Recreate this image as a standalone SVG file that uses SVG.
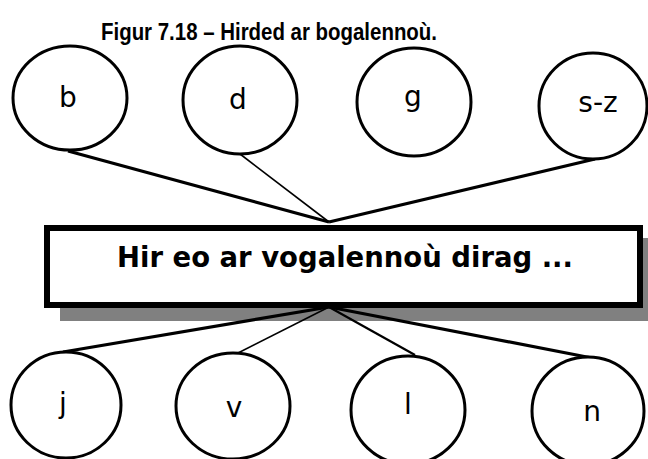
<svg xmlns="http://www.w3.org/2000/svg" width="648" height="459" viewBox="0 0 648 459">
<style>
.c{fill:#fff;stroke:#000;stroke-width:3}
.t{font-family:"DejaVu Sans",Verdana,sans-serif;font-size:28px;fill:#000;text-anchor:middle}
.thick{stroke:#000;stroke-width:3.2;fill:none}
.thin{stroke:#000;stroke-width:1.6;fill:none}
.mid{stroke:#000;stroke-width:2.2;fill:none}
</style>
<rect width="648" height="459" fill="#fff"/>
<text x="101" y="40" font-family="'Liberation Sans Narrow','Liberation Sans',Arial,sans-serif" font-size="24" font-weight="bold" fill="#000" textLength="336" lengthAdjust="spacingAndGlyphs">Figur 7.18 – Hirded ar bogalennoù.</text>
<g id="box">
<rect x="60" y="238" width="600" height="83" fill="#808080"/>
<rect x="47" y="228" width="593" height="77" fill="#fff" stroke="#000" stroke-width="6"/>
<text x="345" y="267" font-family="'DejaVu Sans',Verdana,sans-serif" font-size="29" font-weight="bold" text-anchor="middle" textLength="456" lengthAdjust="spacingAndGlyphs" fill="#000">Hir eo ar vogalennoù dirag ...</text>
</g>
<g id="connectors">
<line class="thick" x1="68" y1="151" x2="329" y2="222"/>
<line class="thin" x1="240" y1="154" x2="329" y2="222"/>
<line class="thick" x1="595" y1="159" x2="329" y2="222"/>
<line class="thick" x1="63" y1="352" x2="329" y2="307"/>
<line class="thin" x1="238" y1="353" x2="329" y2="307"/>
<line class="mid" x1="415" y1="355" x2="329" y2="307"/>
<line class="thick" x1="592" y1="358" x2="329" y2="307"/>
</g>
<g id="node-b"><ellipse class="c" cx="70" cy="98" rx="57" ry="52"/><text class="t" x="68" y="107">b</text></g>
<g id="node-d"><ellipse class="c" cx="240" cy="100" rx="57" ry="54"/><text class="t" x="238" y="109">d</text></g>
<g id="node-g"><ellipse class="c" cx="414" cy="102" rx="57" ry="54"/><text class="t" x="413" y="106">g</text></g>
<g id="node-sz"><ellipse class="c" cx="593" cy="106" rx="54" ry="53"/><text class="t" x="598" y="112">s-z</text></g>
<g id="node-j"><ellipse class="c" cx="66" cy="405" rx="55" ry="53"/><text class="t" x="63" y="413">j</text></g>
<g id="node-v"><ellipse class="c" cx="233" cy="406" rx="57" ry="53"/><text class="t" x="234" y="417">v</text></g>
<g id="node-l"><ellipse class="c" cx="408" cy="410" rx="57" ry="54"/><text class="t" x="408" y="414">l</text></g>
<g id="node-n"><ellipse class="c" cx="588" cy="411" rx="56" ry="54"/><text class="t" x="592" y="421">n</text></g>
</svg>
